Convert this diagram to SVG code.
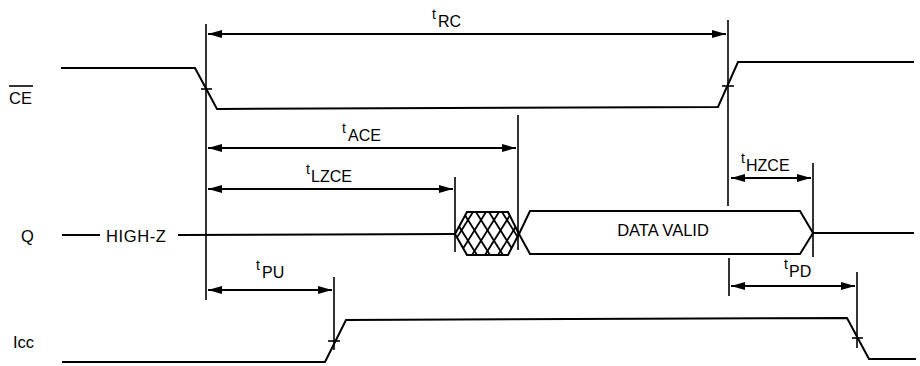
<svg xmlns="http://www.w3.org/2000/svg" width="920" height="366" viewBox="0 0 920 366">
<style>
  .sig{fill:none;stroke:#000;stroke-width:2;stroke-linejoin:miter}
  .ref{fill:none;stroke:#000;stroke-width:1.6}
  .dim{fill:none;stroke:#000;stroke-width:2;marker-start:url(#ah);marker-end:url(#ah)}
  .hatch{fill:none;stroke:#000;stroke-width:1.8}
  text{font-family:"Liberation Sans",Arial,sans-serif;fill:#000}
  .lbl{font-size:16.5px}
  .t{font-size:14px}
  .sub{font-size:16px}
</style>
<defs>
  <marker id="ah" viewBox="0 0 14 8" refX="14" refY="4" markerWidth="14" markerHeight="8" markerUnits="userSpaceOnUse" orient="auto-start-reverse">
    <path d="M0,0 L14,4 L0,8 Z" fill="#000"/>
  </marker>
  <clipPath id="hexclip">
    <polygon points="455,234 467,212 508,212 519,234 508,255 467,255"/>
  </clipPath>
</defs>
<rect width="920" height="366" fill="#fff"/>

<g id="label-CE">
  <text class="lbl" x="9" y="104" font-size="17">CE</text>
  <line x1="9" y1="86" x2="33" y2="86" stroke="#000" stroke-width="1.6"/>
</g>
<g id="label-Q"><text class="lbl" x="21" y="242">Q</text></g>
<g id="label-Icc"><text class="lbl" x="13" y="348">Icc</text></g>

<g id="signal-CE">
  <polyline class="sig" points="61,68 195,68 217,109 718,107 738,62 914,62"/>
  <line class="ref" x1="201" y1="89" x2="212" y2="89"/>
  <line class="ref" x1="722" y1="86" x2="734" y2="86"/>
</g>

<g id="signal-Q">
  <line class="sig" x1="62" y1="235" x2="100" y2="235"/>
  <text class="lbl" x="106" y="242" font-size="16.5" letter-spacing="0.6">HIGH-Z</text>
  <line class="sig" x1="178" y1="235" x2="455" y2="234"/>
  <g id="hatch">
    <g clip-path="url(#hexclip)" class="hatch">
      <line x1="424" y1="212" x2="451" y2="255"/>
      <line x1="437" y1="212" x2="464" y2="255"/>
      <line x1="450" y1="212" x2="477" y2="255"/>
      <line x1="463" y1="212" x2="490" y2="255"/>
      <line x1="476" y1="212" x2="503" y2="255"/>
      <line x1="489" y1="212" x2="516" y2="255"/>
      <line x1="502" y1="212" x2="529" y2="255"/>
      <line x1="515" y1="212" x2="542" y2="255"/>
      <line x1="460" y1="212" x2="433" y2="255"/>
      <line x1="473" y1="212" x2="446" y2="255"/>
      <line x1="486" y1="212" x2="459" y2="255"/>
      <line x1="499" y1="212" x2="472" y2="255"/>
      <line x1="512" y1="212" x2="485" y2="255"/>
      <line x1="525" y1="212" x2="498" y2="255"/>
      <line x1="538" y1="212" x2="511" y2="255"/>
      <line x1="551" y1="212" x2="524" y2="255"/>
    </g>
    <polygon class="sig" points="455,234 467,212 508,212 519,234 508,255 467,255"/>
  </g>
  <g id="data-valid">
    <polygon class="sig" points="519,234 530,211 800,211 813,233 800,254 530,254"/>
    <text class="lbl" x="663" y="236" text-anchor="middle" font-size="16">DATA VALID</text>
  </g>
  <line class="sig" x1="813" y1="233" x2="914" y2="233"/>
</g>

<g id="signal-Icc">
  <polyline class="sig" points="62,362 325,362 346,320 847,318 869,359 916,359"/>
  <line class="ref" x1="328" y1="341" x2="340" y2="341"/>
  <line class="ref" x1="852" y1="338" x2="863" y2="338"/>
</g>

<g id="reference-lines">
  <line class="ref" x1="206" y1="24" x2="206" y2="300"/>
  <line class="ref" x1="728" y1="20" x2="728" y2="206"/>
  <line class="ref" x1="729" y1="258" x2="729" y2="296"/>
  <line class="ref" x1="518" y1="115" x2="518" y2="250"/>
  <line class="ref" x1="455" y1="177" x2="455" y2="252"/>
  <line class="ref" x1="813" y1="163" x2="813" y2="257"/>
  <line class="ref" x1="334" y1="277" x2="334" y2="350"/>
  <line class="ref" x1="857" y1="272" x2="857" y2="348"/>
</g>

<g id="connectors">
  <line class="dim" x1="208" y1="34" x2="726" y2="34"/>
  <line class="dim" x1="208" y1="148" x2="516" y2="148"/>
  <line class="dim" x1="208" y1="189" x2="453" y2="189"/>
  <line class="dim" x1="731" y1="178" x2="811" y2="178"/>
  <line class="dim" x1="208" y1="290" x2="332" y2="290"/>
  <line class="dim" x1="731" y1="286" x2="855" y2="286"/>
</g>

<g id="labels">
  <g id="tRC"><text x="432" y="19" class="t">t</text><text x="438" y="27" class="sub">RC</text></g>
  <g id="tACE"><text x="342" y="133" class="t">t</text><text x="348" y="141" class="sub">ACE</text></g>
  <g id="tLZCE"><text x="306" y="174" class="t">t</text><text x="311" y="182" class="sub">LZCE</text></g>
  <g id="tHZCE"><text x="741" y="163" class="t">t</text><text x="746" y="171" class="sub">HZCE</text></g>
  <g id="tPU"><text x="256" y="270" class="t">t</text><text x="262" y="278" class="sub">PU</text></g>
  <g id="tPD"><text x="784" y="269" class="t">t</text><text x="789" y="277" class="sub">PD</text></g>
</g>
</svg>
